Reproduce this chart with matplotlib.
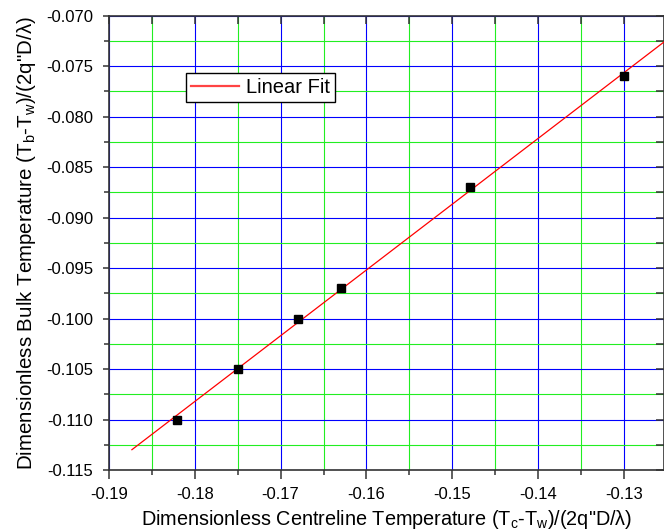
import numpy as np
import matplotlib
matplotlib.use("Agg")
import matplotlib.pyplot as plt
from matplotlib.ticker import MultipleLocator, FormatStrFormatter

plt.rcParams['font.family'] = ['Liberation Sans', 'DejaVu Sans']
plt.rcParams['mathtext.fontset'] = 'custom'
plt.rcParams['mathtext.rm'] = 'Liberation Sans'
plt.rcParams['mathtext.it'] = 'Liberation Sans'

# ── Data ─────────────────────────────────────────────────────
centre_temp = [-0.182, -0.175, -0.168, -0.163, -0.148, -0.130]
bulk_temp   = [-0.110, -0.105, -0.100, -0.097, -0.087, -0.076]
fit_range   = [-0.1873, -0.1245]

slope, icpt = np.polyfit(centre_temp, bulk_temp, 1)
fit_x = np.array(fit_range)
fit_y = slope * fit_x + icpt

# ── Canvas ───────────────────────────────────────────────────
fig = plt.figure(figsize=(6.64, 5.32), dpi=100, facecolor="white")
ax = fig.add_axes([0.1637, 0.1165, 0.8363, 0.854])

ax.set_xlim(-0.19, -0.12538)
ax.set_ylim(-0.115, -0.070)

ax.xaxis.set_major_locator(MultipleLocator(0.01))
ax.xaxis.set_minor_locator(MultipleLocator(0.005))
ax.yaxis.set_major_locator(MultipleLocator(0.005))
ax.yaxis.set_minor_locator(MultipleLocator(0.0025))
ax.xaxis.set_major_formatter(FormatStrFormatter("%.2f"))
ax.yaxis.set_major_formatter(FormatStrFormatter("%.3f"))

# grid: blue major, green minor
ax.grid(which="major", color="#0000ff", linewidth=0.8, zorder=0)
ax.grid(which="minor", color="#22ee22", linewidth=0.8, zorder=0)
ax.set_axisbelow(True)

for sp in ax.spines.values():
    sp.set_color("#333333")
    sp.set_linewidth(1.2)

ax.tick_params(axis="both", which="both", colors="#333333", labelcolor="black",
               labelsize=12, width=1.1)
ax.tick_params(axis="y", which="major", direction="out", length=4, pad=7,
               right=True)
ax.tick_params(axis="y", which="minor", direction="out", length=3.5, right=True)
ax.tick_params(axis="x", which="major", direction="out", length=6.5, pad=6,
               top=True)
ax.tick_params(axis="x", which="minor", direction="out", length=3.3, top=True)

# top / right ticks point inward
for t in ax.xaxis.get_major_ticks() + ax.xaxis.get_minor_ticks():
    t.tick2line.set_marker(3)
    t.tick2line.set_markersize(6)
for t in ax.yaxis.get_major_ticks() + ax.yaxis.get_minor_ticks():
    t.tick2line.set_marker(0)
    t.tick2line.set_markersize(6)

# ── Marks ────────────────────────────────────────────────────
ax.plot(fit_x, fit_y, color="#ff0000", linewidth=0.9, label="Linear Fit",
        zorder=3)
ax.plot(centre_temp, bulk_temp, linestyle="none", marker="s", markersize=6,
        color="black", zorder=4)

leg = ax.legend(loc="upper left", bbox_to_anchor=(0.139, 0.874),
                borderaxespad=0, fontsize=14.5, fancybox=False,
                framealpha=1, edgecolor="black", handlelength=2.4,
                handletextpad=0.35, borderpad=0.25)
leg.get_frame().set_linewidth(1.0)
for ln in leg.get_lines():
    ln.set_color("#ff4444")
    ln.set_linewidth(1.6)

ax.set_xlabel(r'Dimensionless Centreline Temperature (T$_\mathregular{c}$-T$_\mathregular{w}$)/(2q"D/λ)',
              fontsize=14.3, labelpad=4)
ax.set_ylabel(r'Dimensionless Bulk Temperature (T$_\mathregular{b}$-T$_\mathregular{w}$)/(2q"D/λ)',
              fontsize=14.8, labelpad=6)

fig.savefig("out.png", dpi=100, facecolor="white")
